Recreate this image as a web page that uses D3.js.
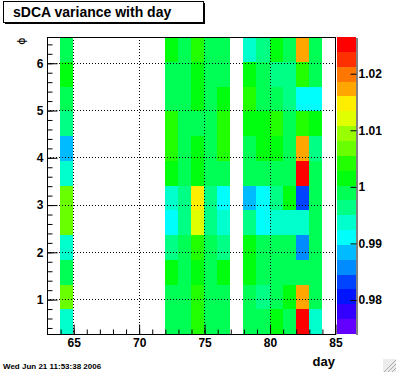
<!DOCTYPE html>
<html>
<head>
<meta charset="utf-8">
<script src="https://cdn.jsdelivr.net/npm/d3@7"></script>
<style>
  body { margin: 0; background: #fff; }
  svg { display: block; font-family: "Liberation Sans", Arial, sans-serif; }
  .axis text { font-weight: bold; font-size: 12px; fill: #000; }
  .axis line { stroke: #000; }
</style>
</head>
<body>
<svg id="chart" width="396" height="372"></svg>
<script>
// days that have data (bin low edge, 1 day wide)
const days = [64, 72, 73, 74, 75, 76, 78, 79, 80, 81, 82, 83];

// sDCA variance per phi bin, bottom (phi ~ 0.26) to top (phi ~ 6.55)
const day64 = [0.9934, 1.0065, 0.9985, 0.9940, 1.0071, 1.0062, 0.9938, 0.9881, 0.9960, 0.9990, 1.0016, 0.9986];
const day72 = [0.9989, 0.9983, 1.0012, 0.9963, 0.9907, 0.9934, 1.0017, 1.0043, 1.0038, 0.9987, 0.9991, 1.0013];
const day73 = [0.9986, 0.9990, 0.9988, 0.9984, 0.9965, 0.9961, 0.9989, 0.9992, 0.9986, 0.9990, 0.9987, 0.9985];
const day74 = [1.0039, 1.0042, 1.0015, 1.0037, 1.0117, 1.0148, 1.0016, 1.0012, 0.9993, 1.0018, 1.0015, 1.0041];
const day75 = [0.9987, 0.9985, 0.9990, 0.9983, 0.9963, 0.9960, 0.9986, 0.9991, 0.9988, 0.9984, 0.9989, 0.9987];
const day76 = [0.9990, 0.9986, 1.0013, 0.9964, 0.9935, 0.9911, 0.9989, 1.0041, 1.0039, 1.0016, 0.9985, 0.9988];
const day78 = [0.9986, 0.9989, 1.0017, 1.0013, 0.9961, 0.9880, 0.9987, 0.9990, 1.0016, 1.0042, 1.0014, 0.9933];
const day79 = [0.9991, 0.9962, 0.9985, 0.9988, 0.9906, 0.9910, 0.9984, 1.0015, 1.0013, 0.9989, 0.9986, 0.9963];
const day80 = [1.0016, 0.9987, 0.9990, 0.9986, 0.9937, 0.9960, 0.9988, 1.0014, 1.0039, 0.9985, 0.9964, 1.0015];
const day81 = [0.9984, 1.0013, 0.9988, 0.9991, 0.9935, 1.0017, 0.9986, 0.9989, 0.9987, 0.9961, 0.9963, 0.9990];
const day82 = [1.0252, 1.0174, 0.9986, 0.9856, 0.9938, 0.9829, 1.0249, 1.0171, 1.0043, 0.9908, 1.0040, 1.0170];
const day83 = [0.9935, 0.9988, 0.9985, 0.9990, 0.9986, 0.9989, 0.9987, 0.9962, 1.0014, 0.9910, 0.9988, 0.9986];
const columns = [day64, day72, day73, day74, day75, day76, day78, day79, day80, day81, day82, day83];

// axis setup
const xRange = [63, 85];
const xMajor = [65, 70, 75, 80, 85];
const yMajor = [1, 2, 3, 4, 5, 6];
const nPhiBins = 12;
const phiMin = Math.PI / 12;
const phiMax = phiMin + 2 * Math.PI;
const zRange = [0.9739, 1.0264];
const zTicks = [0.98, 0.99, 1, 1.01, 1.02];
const nContours = 20;

const svg = d3.select("#chart");
const frame = { left: 47, right: 335, top: 37, bottom: 334 };

const x = d3.scaleLinear().domain(xRange).range([frame.left, frame.right]);
const y = d3.scaleLinear().domain([phiMin, phiMax]).range([frame.bottom, frame.top]);
const z = d3.scaleLinear().domain(zRange).range([frame.bottom, frame.top]);

// old ROOT "pretty palette": 50 hls colours violet -> red, picked per contour
function contourColor(k) {
  const idx = Math.floor((k + 0.99) * 50 / nContours);
  const hue = 280 - (idx + 1) * (280 / 50);
  return d3.hsl(hue, 1, 0.5).formatHex();
}
const bandWidth = (zRange[1] - zRange[0]) / nContours;
function colorOf(v) {
  let k = Math.floor((v - zRange[0]) / bandWidth);
  k = Math.max(0, Math.min(nContours - 1, k));
  return contourColor(k);
}

const phiStep = (phiMax - phiMin) / nPhiBins;
const cells = [];
days.forEach((d, i) => {
  columns[i].forEach((v, j) => {
    cells.push({ day: d, lo: phiMin + j * phiStep, hi: phiMin + (j + 1) * phiStep, v: v });
  });
});

// cells
svg.append("g")
  .attr("shape-rendering", "crispEdges")
  .selectAll("rect")
  .data(cells)
  .join("rect")
  .attr("x", d => x(d.day))
  .attr("width", d => x(d.day + 1) - x(d.day))
  .attr("y", d => y(d.hi))
  .attr("height", d => y(d.lo) - y(d.hi))
  .attr("fill", d => colorOf(d.v));

// dotted grid at major ticks
const grid = svg.append("g").attr("stroke", "#000").attr("stroke-dasharray", "1,2");
grid.selectAll(".gx")
  .data(xMajor.filter(t => t < xRange[1]))
  .join("line")
  .attr("x1", d => Math.round(x(d)) + 0.5).attr("x2", d => Math.round(x(d)) + 0.5)
  .attr("y1", frame.top).attr("y2", frame.bottom);
grid.selectAll(".gy")
  .data(yMajor)
  .join("line")
  .attr("y1", d => Math.round(y(d)) + 0.5).attr("y2", d => Math.round(y(d)) + 0.5)
  .attr("x1", frame.left).attr("x2", frame.right);

// frame
svg.append("rect")
  .attr("x", frame.left + 0.5).attr("y", frame.top + 0.5)
  .attr("width", frame.right - frame.left).attr("height", frame.bottom - frame.top)
  .attr("fill", "none").attr("stroke", "#000");

// x axis: major + minor ticks pointing into the frame
svg.append("g").attr("class", "axis")
  .attr("transform", `translate(0.5,${frame.bottom + 0.5})`)
  .call(d3.axisBottom(x).tickValues(xMajor).tickSize(-10).tickSizeOuter(0).tickPadding(4)
    .tickFormat(d3.format("d")))
  .call(g => g.select(".domain").remove());
svg.append("g").attr("class", "axis")
  .attr("transform", `translate(0.5,${frame.bottom + 0.5})`)
  .call(d3.axisBottom(x).tickValues(d3.range(64, 85)).tickSize(-5).tickFormat(""))
  .call(g => g.select(".domain").remove());

// y axis
svg.append("g").attr("class", "axis")
  .attr("transform", `translate(${frame.left + 0.5},0.5)`)
  .call(d3.axisLeft(y).tickValues(yMajor).tickSize(-10).tickSizeOuter(0).tickPadding(4)
    .tickFormat(d3.format("d")))
  .call(g => g.select(".domain").remove());
svg.append("g").attr("class", "axis")
  .attr("transform", `translate(${frame.left + 0.5},0.5)`)
  .call(d3.axisLeft(y).tickValues(d3.range(0.4, 6.5, 0.2)).tickSize(-5).tickFormat(""))
  .call(g => g.select(".domain").remove());

// palette
const pal = { left: 337, right: 356 };
svg.append("g")
  .attr("shape-rendering", "crispEdges")
  .selectAll("rect")
  .data(d3.range(nContours))
  .join("rect")
  .attr("x", pal.left)
  .attr("width", pal.right - pal.left)
  .attr("y", k => z(zRange[0] + (k + 1) * bandWidth))
  .attr("height", k => z(zRange[0] + k * bandWidth) - z(zRange[0] + (k + 1) * bandWidth))
  .attr("fill", k => contourColor(k));
svg.append("g").attr("class", "axis")
  .attr("transform", `translate(${pal.right + 0.5},0.5)`)
  .call(d3.axisRight(z).tickValues(zTicks).tickSize(-6).tickSizeOuter(0).tickPadding(2)
    .tickFormat(d => +d.toFixed(2)))
  .call(g => g.select(".domain").attr("stroke", "#000"));

// axis titles
svg.append("text")
  .attr("x", frame.right).attr("y", 366)
  .attr("text-anchor", "end")
  .attr("font-weight", "bold").attr("font-size", 13)
  .text("day");
svg.append("text")
  .attr("transform", "translate(21,41) rotate(-90)")
  .attr("text-anchor", "middle").attr("dominant-baseline", "central")
  .attr("font-family", "DejaVu Sans").attr("font-size", 11)
  .text("\u03D5");

// title box with shadow
svg.append("rect").attr("x", 5).attr("y", 3).attr("width", 200).attr("height", 21).attr("fill", "#000");
svg.append("rect").attr("x", 3.5).attr("y", 1.5).attr("width", 200).attr("height", 21)
  .attr("fill", "#fff").attr("stroke", "#000");
svg.append("text")
  .attr("x", 13).attr("y", 17)
  .attr("font-weight", "bold").attr("font-size", 14)
  .text("sDCA variance with day");

// date stamp
svg.append("text")
  .attr("x", 3).attr("y", 369)
  .attr("font-weight", "bold").attr("font-size", 8)
  .text("Wed Jun 21 11:53:38 2006");

// resize grip in the corner
const grip = svg.append("g");
grip.append("rect").attr("x", 383).attr("y", 359).attr("width", 13).attr("height", 13).attr("fill", "#ececec");
grip.selectAll("line")
  .data([4, 8, 12])
  .join("line")
  .attr("x1", d => 396 - d).attr("y1", 372)
  .attr("x2", 396).attr("y2", d => 372 - d)
  .attr("stroke", "#aaa");
</script>
</body>
</html>
